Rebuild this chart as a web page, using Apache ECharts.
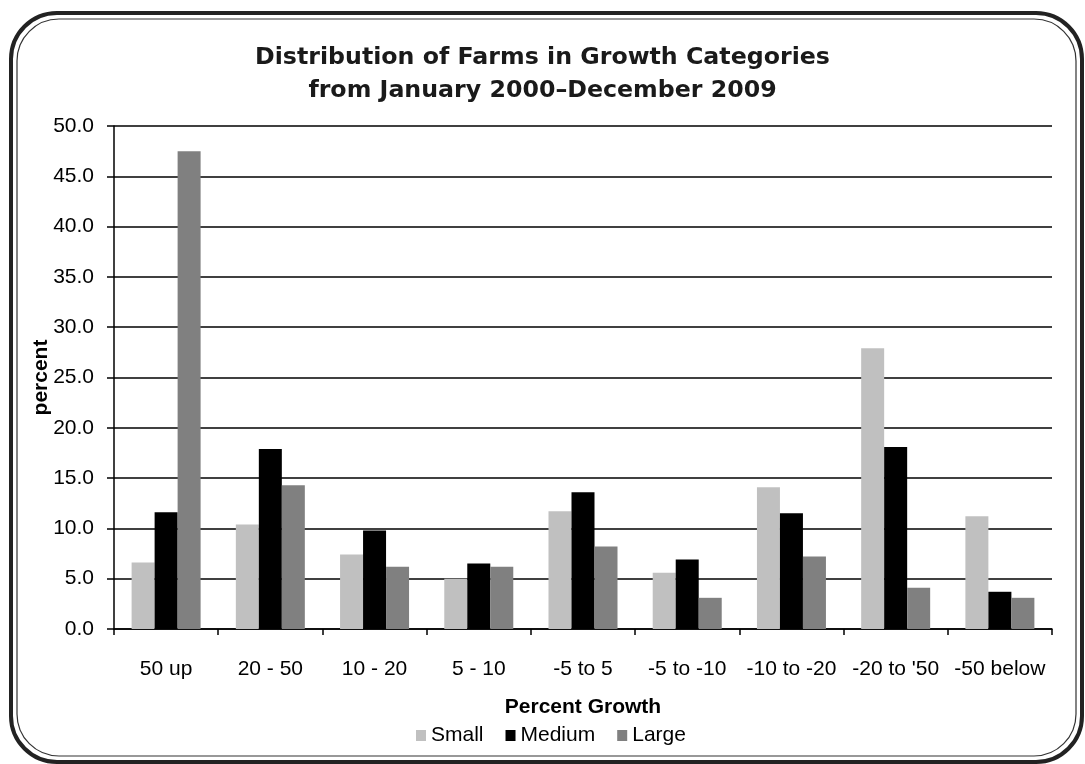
<!DOCTYPE html>
<html><head><meta charset="utf-8">
<script src="https://cdn.jsdelivr.net/npm/echarts@6/dist/echarts.min.js"></script>
<style>html,body{margin:0;padding:0;background:#fff}#c{width:1085px;height:764px}</style>
</head><body><div id="c"></div>
<script>
var categories = ['50 up','20 - 50','10 - 20','5 - 10','-5 to 5','-5 to -10','-10 to -20',"-20 to '50",'-50 below'];
var small  = [6.6, 10.4, 7.4, 5.0, 11.7, 5.6, 14.1, 27.9, 11.2];
var medium = [11.6, 17.9, 9.8, 6.5, 13.6, 6.9, 11.5, 18.1, 3.7];
var large  = [47.5, 14.3, 6.2, 6.2, 8.2, 3.1, 7.2, 4.1, 3.1];
var yTicks = {min: 0, max: 50, interval: 5};

var chart = echarts.init(document.getElementById('c'));
var lab = {fontFamily: 'Liberation Sans, Arial, sans-serif', fontSize: 21, color: '#000'};
var boldLab = {fontFamily: 'Liberation Sans, Arial, sans-serif', fontSize: 21, fontWeight: 'bold', color: '#000'};
chart.setOption({
  animation: false,
  backgroundColor: '#fff',
  title: {
    text: 'Distribution of Farms in Growth Categories\nfrom January 2000\u2013December 2009',
    left: 'center', top: 36,
    textStyle: {fontFamily: 'DejaVu Sans', fontWeight: 'bold', fontSize: 23.7, lineHeight: 33, color: '#1a1a1a'}
  },
  graphic: [
    {type: 'rect', shape: {x: 11, y: 13, width: 1071, height: 749, r: 46}, style: {fill: 'none', stroke: '#222', lineWidth: 4}, silent: true},
    {type: 'rect', shape: {x: 17, y: 19, width: 1059, height: 737, r: 42}, style: {fill: 'none', stroke: '#333', lineWidth: 1.2}, silent: true}
  ],
  legend: {
    left: 411, top: 720,
    itemWidth: 10, itemHeight: 11, itemGap: 22,
    icon: 'rect',
    textStyle: lab,
    data: ['Small', 'Medium', 'Large']
  },
  grid: {left: 114, right: 33, top: 126, bottom: 135, containLabel: false},
  xAxis: {
    type: 'category', data: categories,
    axisLine: {lineStyle: {color: '#000', width: 1.5}},
    axisTick: {show: true, length: 6, inside: false, lineStyle: {color: '#000', width: 1.5}},
    axisLabel: Object.assign({margin: 30, interval: 0}, lab),
    name: 'Percent Growth', nameLocation: 'middle', nameGap: 68, nameMoveOverlap: false,
    nameTextStyle: boldLab
  },
  yAxis: {
    type: 'value', min: yTicks.min, max: yTicks.max, interval: yTicks.interval,
    axisLine: {show: true, lineStyle: {color: '#000', width: 1.5}},
    axisTick: {show: true, length: 7, inside: false, lineStyle: {color: '#000', width: 1.5}},
    axisLabel: Object.assign({margin: 20, formatter: function (v) { return v.toFixed(1); }}, lab),
    splitLine: {show: true, lineStyle: {color: '#000', width: 1.5}},
    name: 'percent', nameLocation: 'middle', nameGap: 62, nameRotate: 90, nameMoveOverlap: false,
    nameTextStyle: boldLab
  },
  series: [
    {name: 'Small', type: 'bar', data: small, barWidth: 23, barGap: '0%', itemStyle: {color: '#c0c0c0'}},
    {name: 'Medium', type: 'bar', data: medium, barWidth: 23, barGap: '0%', itemStyle: {color: '#000000'}},
    {name: 'Large', type: 'bar', data: large, barWidth: 23, barGap: '0%', itemStyle: {color: '#808080'}}
  ]
});
</script></body></html>
